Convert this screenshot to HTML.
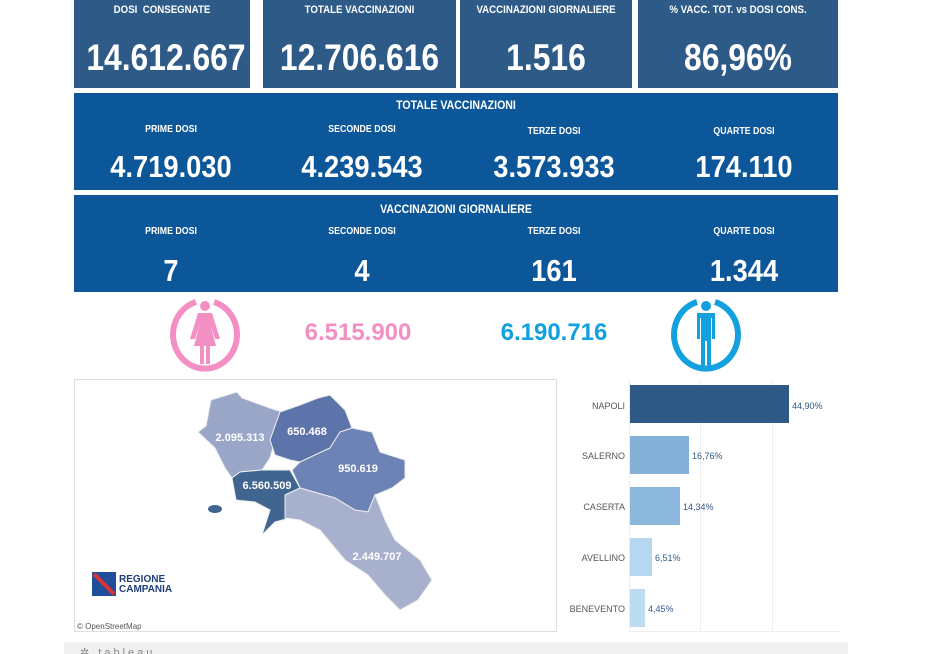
<!DOCTYPE html>
<html><head><meta charset="utf-8"><style>
body{margin:0;width:949px;height:654px;background:#fff;position:relative;overflow:hidden;font-family:"Liberation Sans",sans-serif}
.b{position:absolute;color:#fff;text-align:center;font-weight:bold}
.t{background:#2e5a87}
.m{background:#0c5799}
.lab{position:absolute;font-size:11px;width:100%;text-align:center;font-weight:bold;transform:scaleX(0.88)}
.big{position:absolute;width:100%;text-align:center;font-size:37px;font-weight:bold;transform:scaleX(0.86)}
.col{position:absolute;width:190px;text-align:center}
.col .l{font-size:10px;font-weight:bold;transform:scaleX(0.88)}
.col .v{font-size:31px;font-weight:bold;transform:scaleX(0.88)}
.bl{position:absolute;font-family:"Liberation Sans",sans-serif;font-size:9px;color:#555;text-align:right;width:100px}
.pv{position:absolute;font-family:"Liberation Sans",sans-serif;font-size:9px;color:#2e5a87}
</style></head><body>
<div class="b t" style="left:74px;top:0;width:176px;height:88px"><div class="lab" style="top:4px">DOSI&nbsp; CONSEGNATE</div><div class="big" style="top:37px">14.612.667</div></div>
<div class="b t" style="left:263px;top:0;width:193px;height:88px"><div class="lab" style="top:4px">TOTALE VACCINAZIONI</div><div class="big" style="top:37px">12.706.616</div></div>
<div class="b t" style="left:460px;top:0;width:172px;height:88px"><div class="lab" style="top:4px">VACCINAZIONI GIORNALIERE</div><div class="big" style="top:37px">1.516</div></div>
<div class="b t" style="left:638px;top:0;width:200px;height:88px"><div class="lab" style="top:4px">% VACC. TOT. vs DOSI CONS.</div><div class="big" style="top:37px">86,96%</div></div>

<div class="b m" style="left:74px;top:93px;width:764px;height:97px">
<div class="lab" style="top:5px;font-size:12px">TOTALE VACCINAZIONI</div>
<div class="col" style="left:2px;top:31px"><div class="l">PRIME DOSI</div></div>
<div class="col" style="left:193px;top:31px"><div class="l">SECONDE DOSI</div></div>
<div class="col" style="left:385px;top:33px"><div class="l">TERZE DOSI</div></div>
<div class="col" style="left:575px;top:33px"><div class="l">QUARTE DOSI</div></div>
<div class="col" style="left:2px;top:56px"><div class="v">4.719.030</div></div>
<div class="col" style="left:193px;top:56px"><div class="v">4.239.543</div></div>
<div class="col" style="left:385px;top:56px"><div class="v">3.573.933</div></div>
<div class="col" style="left:575px;top:56px"><div class="v">174.110</div></div>
</div>
<div class="b m" style="left:74px;top:195px;width:764px;height:97px">
<div class="lab" style="top:7px;font-size:12px">VACCINAZIONI GIORNALIERE</div>
<div class="col" style="left:2px;top:31px"><div class="l">PRIME DOSI</div></div>
<div class="col" style="left:193px;top:31px"><div class="l">SECONDE DOSI</div></div>
<div class="col" style="left:385px;top:31px"><div class="l">TERZE DOSI</div></div>
<div class="col" style="left:575px;top:31px"><div class="l">QUARTE DOSI</div></div>
<div class="col" style="left:2px;top:58px"><div class="v">7</div></div>
<div class="col" style="left:193px;top:58px"><div class="v">4</div></div>
<div class="col" style="left:385px;top:58px"><div class="v">161</div></div>
<div class="col" style="left:575px;top:58px"><div class="v">1.344</div></div>
</div>

<svg style="position:absolute;left:0;top:0" width="949" height="654">
<g stroke="#f48fc4" fill="none" stroke-width="6"><path d="M196,302 A32,34 0 1 0 214,302"/></g>
<g fill="#f48fc4"><circle cx="205" cy="306" r="5"/><path d="M198,313 h14 l8,26 h-5 l-5,-16 l6,23 h-6 v18 h-4 v-18 h-2 v18 h-4 v-18 h-6 l6,-23 l-5,16 h-5z"/></g>
<g stroke="#12a0df" fill="none" stroke-width="6"><path d="M697,302 A32,34 0 1 0 715,302"/></g>
<g fill="#12a0df"><circle cx="706" cy="306" r="5"/><path d="M697,313 h18 v26 h-3 v-21 h-1 v49 h-4 v-26 h-2 v26 h-4 v-49 h-1 v21 h-3z"/></g>
<text x="358" y="340" text-anchor="middle" font-family="Liberation Sans" font-weight="bold" font-size="24" fill="#f48fc4">6.515.900</text>
<text x="554" y="340" text-anchor="middle" font-family="Liberation Sans" font-weight="bold" font-size="24" fill="#12a0df">6.190.716</text>

<rect x="74.5" y="379.5" width="482" height="252" fill="#fff" stroke="#ddd"/>
<path d="M211,400 L237,392 L242,398 L270,408 L282,412 L278,425 L275,440 L270,458 L262,470 L240,472 L232,478 L225,468 L215,448 L198,432 L206,426 Z" fill="#9aa6c8" stroke="#eee"/>
<path d="M280,412 L300,405 L318,398 L330,395 L345,410 L352,428 L340,432 L330,448 L300,462 L290,460 L275,455 L270,440 Z" fill="#5d74aa" stroke="#eee"/>
<path d="M352,428 L372,432 L380,452 L405,460 L405,478 L392,488 L375,495 L368,512 L355,510 L335,498 L300,488 L292,470 L300,462 L330,448 L340,432 Z" fill="#6d83b6" stroke="#eee"/>
<path d="M232,478 L240,472 L262,470 L290,470 L300,488 L285,495 L290,518 L275,522 L262,535 L270,510 L255,502 L236,500 Z" fill="#3f6590" stroke="#eee"/>
<path d="M300,488 L335,498 L355,510 L368,512 L375,495 L385,520 L395,540 L420,560 L432,580 L418,600 L400,610 L385,595 L368,575 L345,560 L320,530 L300,520 L285,518 L285,495 Z" fill="#a7b1cd" stroke="#eee"/>
<ellipse cx="215" cy="509" rx="7" ry="4" fill="#3f6590"/>
<g font-family="Liberation Sans" font-weight="bold" font-size="11" fill="#fff" text-anchor="middle">
<text x="240" y="441">2.095.313</text><text x="307" y="435">650.468</text><text x="358" y="472">950.619</text><text x="267" y="489">6.560.509</text><text x="377" y="560">2.449.707</text></g>
<rect x="92" y="572" width="24" height="24" fill="#1f4f9a"/><path d="M94,574 L114,594" stroke="#d33" stroke-width="4"/>
<text x="119" y="582" font-family="Liberation Sans" font-weight="bold" font-size="10" fill="#1f3e7a">REGIONE</text>
<text x="119" y="592" font-family="Liberation Sans" font-weight="bold" font-size="10" fill="#1f3e7a">CAMPANIA</text>
<text x="77" y="629" font-family="Liberation Sans" font-size="8" fill="#555">© OpenStreetMap</text>

<line x1="700.5" y1="380" x2="700.5" y2="632" stroke="#eee"/><line x1="772.5" y1="380" x2="772.5" y2="632" stroke="#eee"/>
<line x1="629.5" y1="380" x2="629.5" y2="632" stroke="#eee"/><line x1="629" y1="631.5" x2="840" y2="631.5" stroke="#eee"/>
<rect x="630" y="385" width="159" height="38" fill="#2e5a87"/>
<rect x="630" y="436" width="59" height="38" fill="#84b1d7"/>
<rect x="630" y="487" width="50" height="38" fill="#8bb7dc"/>
<rect x="630" y="538" width="22" height="38" fill="#b5d7ef"/>
<rect x="630" y="589" width="15" height="38" fill="#bcdcf1"/>
<rect x="64" y="642" width="784" height="12" fill="#f0f0f0"/>
<text x="80" y="656" font-family="Liberation Sans" font-size="11" fill="#888" letter-spacing="3">✲ tableau</text>
</svg>
<div class="bl" style="left:525px;top:401px">NAPOLI</div><div class="pv" style="left:792px;top:401px">44,90%</div>
<div class="bl" style="left:525px;top:451px">SALERNO</div><div class="pv" style="left:692px;top:451px">16,76%</div>
<div class="bl" style="left:525px;top:502px">CASERTA</div><div class="pv" style="left:683px;top:502px">14,34%</div>
<div class="bl" style="left:525px;top:553px">AVELLINO</div><div class="pv" style="left:655px;top:553px">6,51%</div>
<div class="bl" style="left:525px;top:604px">BENEVENTO</div><div class="pv" style="left:648px;top:604px">4,45%</div>
</body></html>
